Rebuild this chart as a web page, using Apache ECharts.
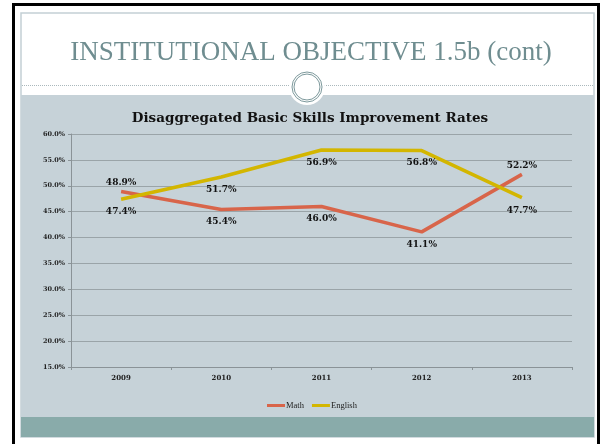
<!DOCTYPE html>
<html>
<head>
<meta charset="utf-8">
<script src="https://cdn.jsdelivr.net/npm/echarts@6/dist/echarts.min.js"></script>
<style>
    html, body { margin: 0; padding: 0; background: #fff; }
    #chart { width: 602px; height: 444px; }
</style>
</head>
<body>
<div id="chart"></div>
<script>
// data
const years = ['2009', '2010', '2011', '2012', '2013']
const mathRates = [48.9, 45.4, 46.0, 41.1, 52.2]
const englishRates = [47.4, 51.7, 56.9, 56.8, 47.7]
// where each point label sits relative to the line
const mathLabelPos = ['top', 'bottom', 'bottom', 'bottom', 'top']
const englishLabelPos = ['bottom', 'bottom', 'bottom', 'bottom', 'bottom']

const serif = '"DejaVu Serif", serif'
const slideColor = {
    frame: '#c3d0d5',
    panel: '#c6d2d8',
    band: '#89abaa',
    title: '#6f8d90',
    ring: '#7d999c'
}

function toPoints(values, positions) {
    return values.map((v, i) => ({
        value: v,
        label: { position: positions[i], distance: positions[i] === 'top' ? 4 : 8 }
    }))
}

const chart = echarts.init(document.getElementById('chart'))

const options = {
    backgroundColor: '#fff',
    animation: false,
    title: [
        {
            text: 'INSTITUTIONAL OBJECTIVE 1.5b (cont)',
            left: 306,
            top: 34,
            textAlign: 'center',
            textStyle: {
                fontFamily: '"Liberation Serif", serif',
                fontWeight: 'normal',
                fontSize: 27,
                color: slideColor.title
            }
        },
        {
            text: 'Disaggregated Basic Skills Improvement Rates',
            left: 305,
            top: 106,
            textAlign: 'center',
            textStyle: {
                fontFamily: serif,
                fontWeight: 'bold',
                fontSize: 13.5,
                color: '#111'
            }
        }
    ],
    // slide decoration: frames, panel, footer band, ring ornament
    graphic: [
        { type: 'rect', z: -10, shape: { x: 12, y: 3, width: 3, height: 441 }, style: { fill: '#000' } },
        { type: 'rect', z: -10, shape: { x: 12, y: 3, width: 588, height: 3 }, style: { fill: '#000' } },
        { type: 'rect', z: -10, shape: { x: 597, y: 3, width: 3, height: 441 }, style: { fill: '#000' } },
        { type: 'rect', z: -10, shape: { x: 21, y: 13, width: 573, height: 424 }, style: { fill: 'none', stroke: slideColor.frame, lineWidth: 1.5 } },
        { type: 'rect', z: -10, shape: { x: 21, y: 95, width: 573, height: 322 }, style: { fill: slideColor.panel } },
        { type: 'rect', z: -10, shape: { x: 21, y: 417, width: 573, height: 20 }, style: { fill: slideColor.band } },
        { type: 'line', z: -9, shape: { x1: 22, y1: 85.5, x2: 593, y2: 85.5 }, style: { stroke: '#aab8bc', lineWidth: 1, lineDash: [1, 1] } },
        { type: 'circle', z: -8, shape: { cx: 307, cy: 87, r: 18 }, style: { fill: '#fff' } },
        { type: 'circle', z: -7, shape: { cx: 307, cy: 87, r: 15 }, style: { fill: 'none', stroke: slideColor.ring, lineWidth: 1 } },
        { type: 'circle', z: -7, shape: { cx: 307, cy: 87, r: 13 }, style: { fill: 'none', stroke: slideColor.ring, lineWidth: 1 } }
    ],
    grid: {
        left: 71,
        right: 30,
        top: 134,
        bottom: 77
    },
    legend: {
        left: 262,
        top: 396,
        icon: 'rect',
        itemWidth: 18,
        itemHeight: 3,
        itemGap: 8,
        textStyle: {
            fontFamily: '"Liberation Serif", serif',
            fontSize: 8.5,
            color: '#222',
            padding: [0, 0, 0, -4]
        },
        data: ['Math', 'English']
    },
    xAxis: {
        type: 'category',
        data: years,
        boundaryGap: true,
        axisLine: { lineStyle: { color: '#8a9397', width: 1 } },
        axisTick: { show: true, length: 3, lineStyle: { color: '#8a9397' } },
        axisLabel: {
            margin: 8,
            fontFamily: serif,
            fontWeight: 'bold',
            fontSize: 7,
            color: '#222'
        }
    },
    yAxis: {
        type: 'value',
        min: 15,
        max: 60,
        interval: 5,
        axisLine: { show: true, lineStyle: { color: '#8a9397', width: 1 } },
        axisTick: { show: true, length: 3, lineStyle: { color: '#8a9397' } },
        splitLine: { lineStyle: { color: '#9aa4a8', width: 1 } },
        axisLabel: {
            margin: 6,
            fontFamily: serif,
            fontWeight: 'bold',
            fontSize: 6.5,
            color: '#222',
            formatter: v => v.toFixed(1) + '%'
        }
    },
    series: [
        {
            name: 'Math',
            type: 'line',
            data: toPoints(mathRates, mathLabelPos),
            symbol: 'circle',
            symbolSize: 0,
            lineStyle: { color: '#d8654a', width: 3.5 },
            itemStyle: { color: '#d8654a' },
            label: {
                show: true,
                fontFamily: serif,
                fontWeight: 'bold',
                fontSize: 9,
                color: '#111',
                formatter: p => p.value.toFixed(1) + '%'
            }
        },
        {
            name: 'English',
            type: 'line',
            data: toPoints(englishRates, englishLabelPos),
            symbol: 'circle',
            symbolSize: 0,
            lineStyle: { color: '#d3b600', width: 3.5 },
            itemStyle: { color: '#d3b600' },
            label: {
                show: true,
                fontFamily: serif,
                fontWeight: 'bold',
                fontSize: 9,
                color: '#111',
                formatter: p => p.value.toFixed(1) + '%'
            }
        }
    ]
}

chart.setOption(options)
</script>
</body>
</html>
